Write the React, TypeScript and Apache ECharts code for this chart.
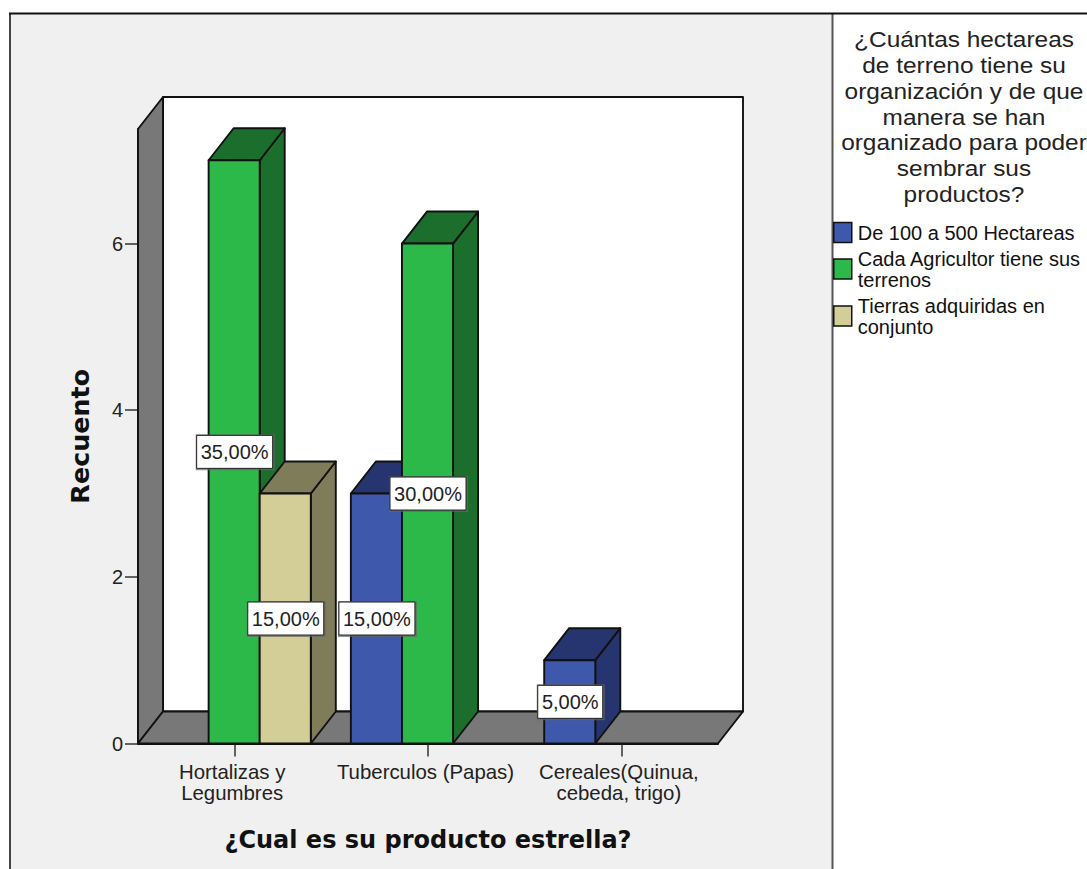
import React, { useEffect, useRef } from "react";
import * as echarts from "echarts";

const categories = ["Hortalizas y\nLegumbres", "Tuberculos (Papas)", "Cereales(Quinua,\ncebeda, trigo)"];
const seriesNames = ["De 100 a 500 Hectareas", "Cada Agricultor tiene sus\nterrenos", "Tierras adquiridas en\nconjunto"];
const blueValues = [0, 3, 1];
const greenValues = [7, 6, 0];
const tanValues = [3, 0, 0];
const blueLabels = ["", "15,00%", "5,00%"];
const greenLabels = ["35,00%", "30,00%", ""];
const tanLabels = ["15,00%", "", ""];
const frontColors = ["#3E58AC", "#2DB84A", "#D3CE97"];
const sideColors = ["#263570", "#1C6E2D", "#7F7C5A"];
const yTicks = [0, 2, 4, 6];
const legendTitle = "¿Cuántas hectareas\nde terreno tiene su\norganización y de que\nmanera se han\norganizado para poder\nsembrar sus\nproductos?";
const xTitle = "¿Cual es su producto estrella?";
const yTitle = "Recuento";

const DX = 25;
const DY = -32;
const SLOT = 51 / 193;
const EDGE = "#111";
const LW = 1.9;

const allValues = [blueValues, greenValues, tanValues];
const allLabels = [blueLabels, greenLabels, tanLabels];

function poly(points: number[][], fill: string, lw = LW) {
  return { type: "polygon", shape: { points }, style: { fill, stroke: EDGE, lineWidth: lw, lineJoin: "round" } };
}

function wallsItem(params: any) {
  const c = params.coordSys;
  const l = c.x, r = c.x + c.width, t = c.y, b = c.y + c.height;
  return {
    type: "group",
    children: [
      poly([[l + DX, t + DY], [r + DX, t + DY], [r + DX, b + DY], [l + DX, b + DY]], "#FFFFFF"),
      poly([[l, b], [l + DX, b + DY], [l + DX, t + DY], [l, t]], "#787878"),
      poly([[l, b], [r, b], [r + DX, b + DY], [l + DX, b + DY]], "#787878"),
    ],
  };
}

function barItem(s: number) {
  return (params: any, api: any) => {
    const value = api.value(1);
    if (!value) return null;
    const cat = api.value(0);
    const band = api.size([1, 0])[0];
    const w = band * SLOT;
    const [cx, top] = api.coord([cat, value]);
    const [, base] = api.coord([cat, 0]);
    const x0 = cx + (s - 1.5) * w - 0.5;
    const x1 = x0 + w;
    return {
      type: "group",
      children: [
        poly([[x1, base], [x1 + DX, base + DY], [x1 + DX, top + DY], [x1, top]], sideColors[s]),
        poly([[x0, top], [x1, top], [x1 + DX, top + DY], [x0 + DX, top + DY]], sideColors[s]),
        poly([[x0, base], [x1, base], [x1, top], [x0, top]], frontColors[s]),
      ],
    };
  };
}

function labelItem(params: any, api: any) {
  const text = allLabels[api.value(2)][api.value(0)];
  if (!text) return null;
  const s = api.value(2);
  const cat = api.value(0);
  const band = api.size([1, 0])[0];
  const w = band * SLOT;
  const [cx, y] = api.coord([cat, api.value(1) / 2]);
  const x = cx + (s - 1) * w;
  const bw = text.length === 6 ? 76 : 65;
  const bh = 33;
  return {
    type: "group",
    children: [
      { type: "rect", shape: { x: x - bw / 2 - 1, y: y - bh / 2 - 1, width: bw + 3, height: bh + 3 }, style: { fill: "#666", opacity: 0.7 } },
      { type: "rect", shape: { x: x - bw / 2, y: y - bh / 2, width: bw, height: bh }, style: { fill: "#fff", stroke: "#222", lineWidth: 1 } },
      { type: "text", style: { text, x, y, align: "center", verticalAlign: "middle", fontFamily: "Liberation Sans", fontSize: 20, fill: "#222" } },
    ],
  };
}

export default function App() {
  const ref = useRef<HTMLDivElement>(null);
  useEffect(() => {
    const chart = echarts.init(ref.current!, undefined, { renderer: "svg" });
    const barSeries = allValues.map((vals, s) => ({
      type: "custom",
      name: seriesNames[s],
      z: 3 + s,
      clip: false,
      itemStyle: { color: frontColors[s] },
      renderItem: barItem(s),
      encode: { x: 0, y: 1 },
      data: vals.map((v, i) => [i, v]),
    }));
    const labelData: number[][] = [];
    allValues.forEach((vals, s) => vals.forEach((v, i) => labelData.push([i, v, s])));
    chart.setOption({
      animation: false,
      backgroundColor: "#fff",
      graphic: {
        elements: [
          { type: "rect", z: -10, shape: { x: 10, y: 13, width: 822, height: 860 }, style: { fill: "#F0F0F0" } },
          { type: "rect", z: -9, shape: { x: 9, y: 13, width: 2, height: 860 }, style: { fill: "#444" } },
          { type: "rect", z: -9, shape: { x: 831.5, y: 13, width: 2, height: 860 }, style: { fill: "#555" } },
          { type: "rect", z: -8, shape: { x: 9, y: 12.5, width: 1080, height: 2 }, style: { fill: "#111" } },
          {
            type: "text",
            x: 964,
            y: 27,
            scaleX: 1.11,
            style: { text: legendTitle, align: "center", verticalAlign: "top", fontFamily: "Liberation Sans", fontSize: 22, lineHeight: 25.7, fill: "#222" },
          },
        ],
      },
      legend: {
        left: 833,
        top: 220,
        padding: 0,
        orient: "vertical",
        icon: "rect",
        itemWidth: 18,
        itemHeight: 20,
        itemGap: 1,
        selectedMode: false,
        data: seriesNames,
        itemStyle: { borderColor: EDGE, borderWidth: 1.5 },
        textStyle: { fontFamily: "Liberation Sans", fontSize: 20, lineHeight: 21, color: "#111", padding: [4, 0, 0, 1] },
      },
      grid: { left: 138, top: 129, width: 580, height: 614.5 },
      xAxis: {
        type: "category",
        data: categories,
        name: xTitle,
        nameLocation: "middle",
        nameGap: 84,
        nameTextStyle: { fontFamily: "DejaVu Sans", fontWeight: "bold", fontSize: 24, color: "#111" },
        axisLine: { lineStyle: { color: EDGE, width: 1.9 } },
        axisTick: { show: true, alignWithLabel: true, length: 13, lineStyle: { color: "#333", width: 1.5 } },
        axisLabel: { interval: 0, margin: 18, padding: [0, 5, 0, 0], fontFamily: "Liberation Sans", fontSize: 20.4, lineHeight: 21, color: "#222" },
      },
      yAxis: {
        type: "value",
        min: 0,
        max: 7.375,
        interval: 2,
        name: yTitle,
        nameLocation: "middle",
        nameGap: 46,
        nameTextStyle: { fontFamily: "DejaVu Sans", fontWeight: "bold", fontSize: 25.4, color: "#111" },
        splitLine: { show: false },
        axisLine: { show: true, lineStyle: { color: EDGE, width: 1.9 } },
        axisTick: { show: true, length: 13, customValues: yTicks, lineStyle: { color: "#333", width: 1.5 } },
        axisLabel: { margin: 15, customValues: yTicks, fontFamily: "Liberation Sans", fontSize: 20, color: "#222" },
      },
      series: [
        { type: "custom", silent: true, z: 2, clip: false, renderItem: wallsItem, encode: { x: 0, y: 1 }, data: [[0, 0]] },
        ...barSeries,
        { type: "custom", silent: true, z: 10, clip: false, renderItem: labelItem, encode: { x: 0, y: 1 }, data: labelData },
      ],
    });
    return () => chart.dispose();
  }, []);
  return <div ref={ref} style={{ position: "absolute", left: 0, top: 0, width: 1087, height: 869 }} />;
}
